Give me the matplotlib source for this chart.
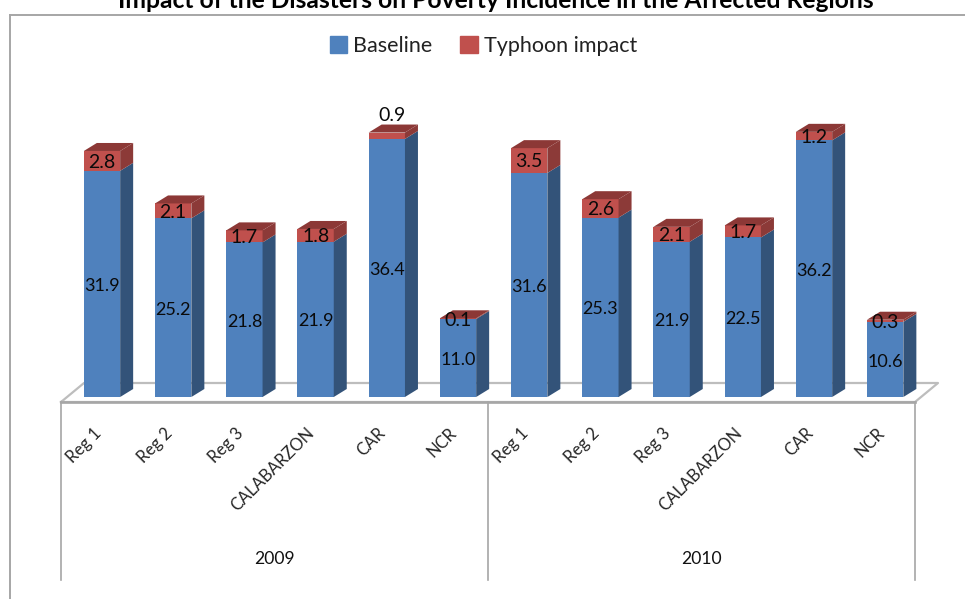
import numpy as np
import matplotlib
matplotlib.use("Agg")
import matplotlib.pyplot as plt
from matplotlib.lines import Line2D
from matplotlib.patches import Rectangle

plt.rcParams['font.family'] = ['Lato', 'DejaVu Sans']

regions = ['Reg 1', 'Reg 2', 'Reg 3', 'CALABARZON', 'CAR', 'NCR']
years = ['2009', '2010']
categories = regions + regions
baseline = [31.9, 25.2, 21.8, 21.9, 36.4, 11.0, 31.6, 25.3, 21.9, 22.5, 36.2, 10.6]
typhoon = [2.8, 2.1, 1.7, 1.8, 0.9, 0.1, 3.5, 2.6, 2.1, 1.7, 1.2, 0.3]

W, H = 965, 599
fig = plt.figure(figsize=(W / 100, H / 100), dpi=100)
ax = fig.add_axes([0, 0, 1, 1])

# pixels per category / per unit, first bar centre and the baseline row
sx = 71.2
sy = 7.09
x0 = 102
y0 = 397
ax.set_xlim(-x0 / sx, (W - x0) / sx)
ax.set_ylim((y0 - H) / sy, y0 / sy)
ax.axis('off')

blue, blue_side = '#4f81bd', '#335379'
red, red_side, red_top = '#c0504d', '#8c3a38', '#8c3836'
grey = '#a6a6a6'

# depth of the fake 3d
dx = 13 / sx
dy = 8 / sy
w = 0.51

xs = np.arange(len(categories))
base = np.array(baseline)
imp = np.array(typhoon)
tops = base + imp

# floor
fl = -5 / sy
bk = 14 / sy
fl_l, fl_r = -41 / sx, 813 / sx
ax.plot([fl_l, fl_r, fl_r + 23 / sx, fl_l + 23 / sx, fl_l],
        [fl, fl, bk, bk, fl], color='#bdbdbd', lw=1.6, zorder=1)
ax.plot([fl_l, fl_r], [fl, fl], color=grey, lw=1.9, zorder=1)

ax.bar(xs, base, w, color=blue, edgecolor='none', zorder=3, label='Baseline')
ax.bar(xs, imp, w, bottom=base, color=red, edgecolor='none', zorder=3, label='Typhoon impact')

for x, b, t in zip(xs, base, tops):
    r = x + w / 2
    ax.fill([r, r + dx, r + dx, r], [0, dy, b + dy, b], color=blue_side, lw=0, zorder=3)
    ax.fill([r, r + dx, r + dx, r], [b, b + dy, t + dy, t], color=red_side, lw=0, zorder=3)
    ax.fill([r - w, r, r + dx, r - w + dx], [t, t, t + dy, t + dy], color=red_top, lw=0, zorder=3)

# data labels, centred in their segment (0.9 sits above its bar)
for x, b, i in zip(xs, base, imp):
    ax.text(x, b / 2 - 0.3, f'{b:.1f}', ha='center', va='center', fontsize=13, color='#0a0a0a', zorder=5)
    yy = b + i / 2 - 0.2
    xt = x
    if 0.5 < i < 1:
        yy = b + i + 2.4
        xt = x + 0.08
    ax.text(xt, yy, f'{i:.1f}', ha='center', va='center', fontsize=14, color='#0a0a0a', zorder=5)

# category labels
lab_y = -28 / sy
for x, c in zip(xs, categories):
    ax.text(x - 0.13, lab_y, c, rotation=45, rotation_mode='anchor', ha='right', va='top',
            fontsize=12, color='#262626')

# year group separators and labels
sep_bot = -183 / sy
for xp in [fl_l, fl_l + (fl_r - fl_l) / 2, fl_r]:
    ax.plot([xp, xp], [fl, sep_bot], color=grey, lw=1.2)
for k, yr in enumerate(years):
    ax.text(fl_l + (fl_r - fl_l) * (k + 0.5) / 2, -162 / sy, yr, ha='center', va='center',
            fontsize=12.6, color='#111111')

# outer frame
fig.add_artist(Line2D([10 / W, 10 / W], [0, 1 - 15 / H], color=grey, lw=1.4))
fig.add_artist(Line2D([10 / W, 1], [1 - 15 / H, 1 - 15 / H], color=grey, lw=1.4))

fig.text(496 / W, 1 - 1 / H, 'Impact of the Disasters on Poverty Incidence in the Affected Regions',
         ha='center', va='center', fontsize=17.7, fontweight='bold', color='black')

# legend
handles = [Rectangle((0, 0), 1, 1, color=blue), Rectangle((0, 0), 1, 1, color=red)]
fig.legend(handles, ['Baseline', 'Typhoon impact'], loc='center', bbox_to_anchor=(483.5 / W, 1 - 46 / H),
           ncol=2, frameon=False, fontsize=15.5, handlelength=0.8, handleheight=0.8,
           handletextpad=0.3, columnspacing=1.3, labelcolor='#222222')

fig.savefig('out.png', dpi=100)
